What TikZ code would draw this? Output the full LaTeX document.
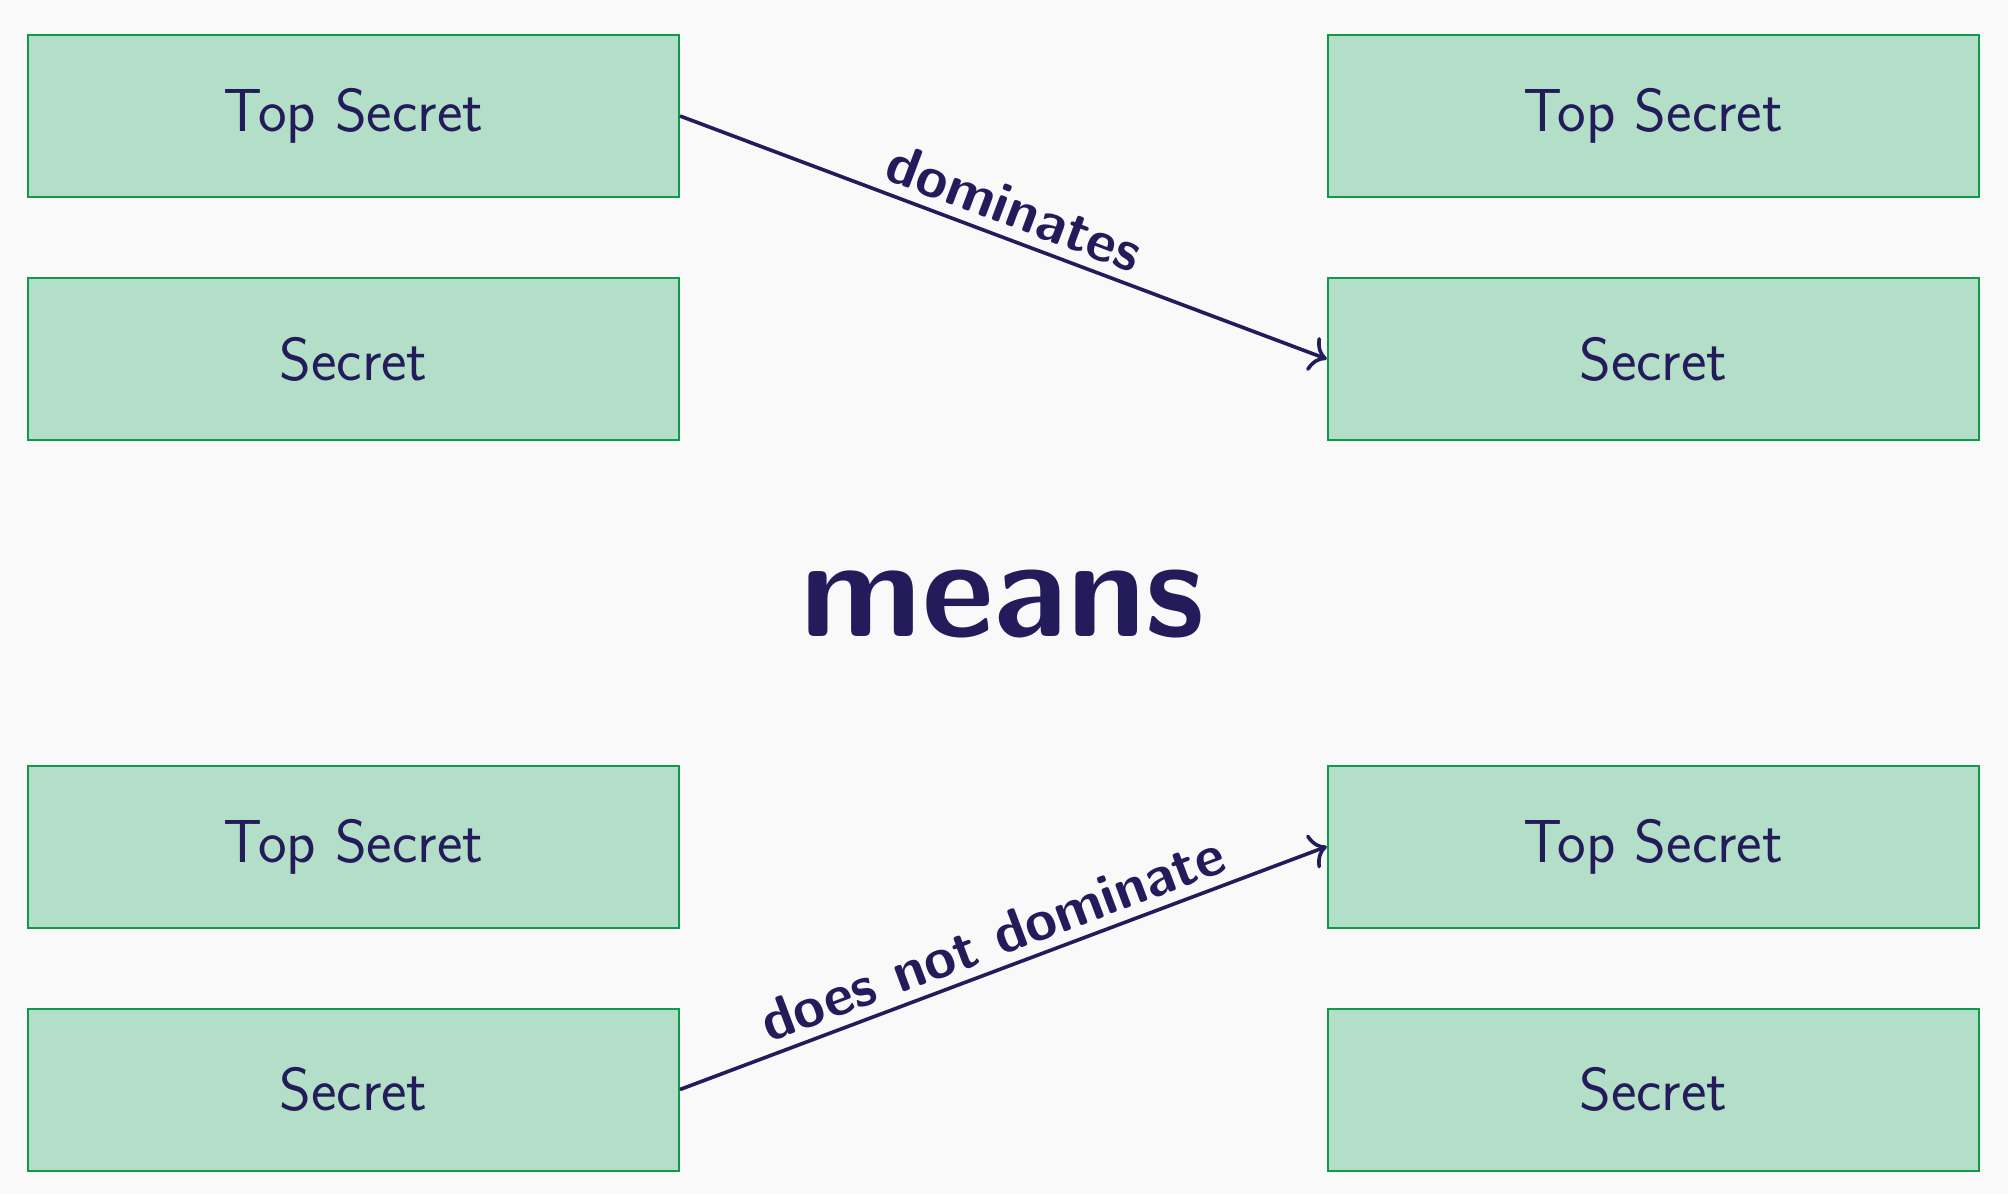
\documentclass[tikz,border=0pt]{standalone}
\usetikzlibrary{arrows.meta}
\definecolor{bg}{HTML}{F9F9F9}
\definecolor{boxfill}{HTML}{B3DFC8}
\definecolor{boxline}{HTML}{0E9A48}
\definecolor{ink}{HTML}{241B5A}
\begin{document}
\begin{tikzpicture}[x=1pt,y=1pt,
  level/.style={draw=boxline, line width=1pt, fill=boxfill, minimum width=325.5pt, minimum height=81pt, inner sep=0pt, text=ink, font=\sffamily\fontsize{30.4}{36}\selectfont},
  relarrow/.style={draw=ink, line width=1.8pt, -{To[length=8pt,width=18pt]}},
  rellabel/.style={text=ink, font=\sffamily\bfseries\fontsize{28.7}{34}\selectfont, sloped, midway, above, inner sep=5pt}]
\fill[bg] (0,0) rectangle (1004,-597);
\useasboundingbox (0,0) rectangle (1004,-597);
\node[level] (l1) at (176.75,-58) {Top Secret};
\node[level] (l2) at (176.75,-179.5) {Secret};
\node[level] (l3) at (176.75,-423.25) {Top Secret};
\node[level] (l4) at (176.75,-544.75) {Secret};
\node[level] (r1) at (826.65,-58) {Top Secret};
\node[level] (r2) at (826.65,-179.5) {Secret};
\node[level] (r3) at (826.65,-423.25) {Top Secret};
\node[level] (r4) at (826.65,-544.75) {Secret};
\node[anchor=base, text=ink, font=\sffamily\bfseries\fontsize{70}{78}\selectfont, inner sep=0pt] (means) at (501.5,-318.25) {means};
\draw[relarrow] (l1.east) -- node[rellabel] (lab1) {dominates} (r2.west);
\draw[relarrow] (l4.east) -- node[rellabel] (lab2) {does not dominate} (r3.west);
\end{tikzpicture}
\end{document}
